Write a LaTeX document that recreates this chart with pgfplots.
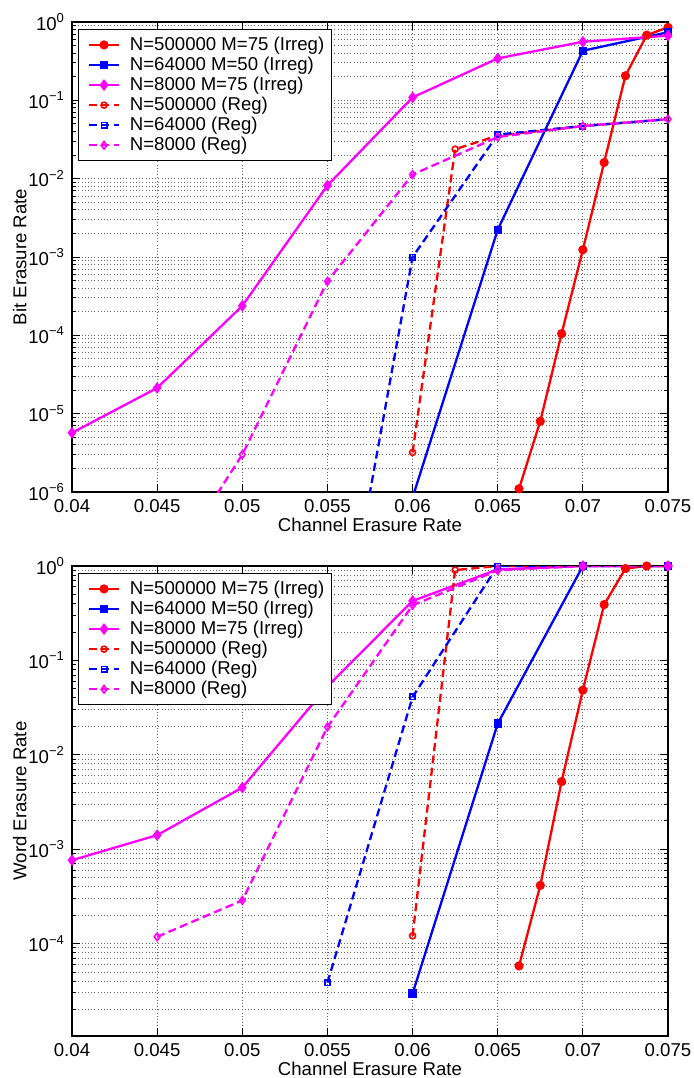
\documentclass[border=0pt]{standalone}
\usepackage{pgfplots}
\pgfplotsset{compat=1.18}
\usepackage{fontspec}
\setmainfont{Liberation Sans}
\definecolor{mred}{rgb}{1,0,0}
\definecolor{mblue}{rgb}{0,0,1}
\definecolor{mmag}{rgb}{1,0,1}
\pgfplotsset{
  myax/.style={
    scale only axis, width=298pt, height=235pt, anchor=north west,
    xmin=0.04, xmax=0.075, scaled x ticks=false,
    xtick={0.04,0.045,0.05,0.055,0.06,0.065,0.07,0.075},
    xticklabels={0.04,0.045,0.05,0.055,0.06,0.065,0.07,0.075},
    yticklabel={10\textsuperscript{\pgfmathtruncatemacro\myexp{\tick}\ifnum\myexp<0 −\the\numexpr-\myexp\relax\else\myexp\fi}},
    grid=both,
    major grid style={dash pattern=on 0.5pt off 1.1pt, black!60, line width=0.5pt},
    minor grid style={dash pattern=on 0.5pt off 1.1pt, black!60, line width=0.5pt},
    tick align=inside, major tick length=4pt, minor tick length=2pt,
    every tick/.style={black, line width=0.5pt},
    axis line style={line width=0.7pt},
    tick label style={font=\fontsize{9.3}{11}\selectfont},
    every axis label/.append style={font=\fontsize{9.3}{11}\selectfont},
    xlabel={Channel Erasure Rate},
    xlabel style={yshift=4pt},
    ylabel style={yshift=-6pt},
    legend style={at={(0.01,0.985)}, anchor=north west, draw=black, line width=0.6pt,
      font=\fontsize{9.3}{10.5}\selectfont, inner sep=1.5pt, row sep=-2.2pt},
    legend cell align=left,
    legend image code/.code={%
      \draw[#1, mark indices={2}] plot coordinates {(0.13cm,0cm) (0.395cm,0cm) (0.66cm,0cm)};
      \path[draw=none] (0cm,0cm) -- (0.78cm,0cm);},
  },
  sol/.style={line width=1.15pt, mark options={solid}},
  dsh/.style={line width=1.15pt, dash pattern=on 4pt off 2.2pt, mark options={solid, fill=white, line width=0.8pt}},
}
\begin{document}
\begin{tikzpicture}
\useasboundingbox (-36pt,11pt) rectangle (310.5pt,-528pt);
% ---------------- top ----------------
\begin{axis}[ymode=log, log basis y=10, myax, at={(0,0)}, ymin=1e-6, ymax=1, ylabel={Bit Erasure Rate}]
\addplot[mred, sol, mark=*, mark size=1.7pt, mark options={fill=mred}] coordinates {
 (0.06625,1.1e-6) (0.0675,8e-6) (0.06875,1.05e-4) (0.07,1.24e-3) (0.07125,0.0161) (0.0725,0.206) (0.07375,0.68) (0.075,0.855)};
\addlegendentry{N=500000 M=75 (Irreg)}
\addplot[mblue, sol, mark=square*, mark size=1.5pt, mark options={fill=mblue}] coordinates {
 (0.06,8.5e-7) (0.065,2.23e-3) (0.07,0.43) (0.075,0.74)};
\addlegendentry{N=64000 M=50 (Irreg)}
\addplot[mmag, sol, mark=diamond*, mark size=2pt, mark options={fill=mmag}] coordinates {
 (0.04,5.7e-6) (0.045,2.13e-5) (0.05,2.38e-4) (0.055,8.2e-3) (0.06,0.109) (0.065,0.343) (0.07,0.56) (0.075,0.67)};
\addlegendentry{N=8000 M=75 (Irreg)}
\addplot[mred, dsh, mark=o, mark size=1.5pt, mark indices={1,2}] coordinates {
 (0.06,3.2e-6) (0.0625,0.0238) (0.065,0.0355) (0.07,0.047) (0.075,0.0575)};
\addlegendentry{N=500000 (Reg)}
\addplot[mblue, dsh, mark=square, mark size=1.35pt, mark indices={1,2,3}] coordinates {
 (0.055,1e-9) (0.06,1.0e-3) (0.065,0.0366) (0.07,0.047) (0.075,0.0575)};
\addlegendentry{N=64000 (Reg)}
\addplot[mmag, dsh, mark=diamond, mark size=1.9pt] coordinates {
 (0.045,6e-8) (0.05,3.0e-6) (0.055,4.9e-4) (0.06,0.0113) (0.065,0.034) (0.07,0.047) (0.075,0.0575)};
\addlegendentry{N=8000 (Reg)}
\addplot[forget plot, only marks, mred, mark=o, mark size=1.5pt, mark options={fill=white, line width=0.8pt}] coordinates {(0.06625,1.1e-6)};
\end{axis}
% ---------------- bottom ----------------
\begin{axis}[ymode=log, log basis y=10, myax, at={(0,-272pt)}, ymin=1.05e-5, ymax=1, ylabel={Word Erasure Rate}]
\addplot[mred, sol, mark=*, mark size=1.7pt, mark options={fill=mred}] coordinates {
 (0.06625,5.8e-5) (0.0675,4.14e-4) (0.06875,5.2e-3) (0.07,0.0485) (0.07125,0.39) (0.0725,0.94) (0.07375,1.0) (0.075,1.0)};
\addlegendentry{N=500000 M=75 (Irreg)}
\addplot[mblue, sol, mark=square*, mark size=1.5pt, mark options={fill=mblue}] coordinates {
 (0.06,2.96e-5) (0.065,0.0214) (0.07,1.0) (0.075,1.0)};
\addlegendentry{N=64000 M=50 (Irreg)}
\addplot[mmag, sol, mark=diamond*, mark size=2pt, mark options={fill=mmag}] coordinates {
 (0.04,7.65e-4) (0.045,1.41e-3) (0.05,4.5e-3) (0.055,0.053) (0.06,0.427) (0.065,0.92) (0.07,1.0) (0.075,1.0)};
\addlegendentry{N=8000 M=75 (Irreg)}
\addplot[mred, dsh, mark=o, mark size=1.5pt, mark indices={1,2}] coordinates {
 (0.06,1.21e-4) (0.0625,0.906) (0.065,1.0) (0.07,1.0) (0.075,1.0)};
\addlegendentry{N=500000 (Reg)}
\addplot[mblue, dsh, mark=square, mark size=1.35pt, mark indices={1,2,3}] coordinates {
 (0.055,3.86e-5) (0.06,0.041) (0.065,1.0) (0.07,1.0) (0.075,1.0)};
\addlegendentry{N=64000 (Reg)}
\addplot[mmag, dsh, mark=diamond, mark size=1.9pt] coordinates {
 (0.045,1.18e-4) (0.05,2.87e-4) (0.055,0.0197) (0.06,0.384) (0.065,0.9) (0.07,1.0) (0.075,1.0)};
\addlegendentry{N=8000 (Reg)}
\addplot[forget plot, only marks, mred, mark=o, mark size=1.5pt, mark options={fill=white, line width=0.8pt}] coordinates {(0.06625,5.8e-5)};
\addplot[forget plot, only marks, mblue, mark=square, mark size=1.35pt, mark options={fill=white, line width=0.8pt}] coordinates {(0.06,2.96e-5)};
\end{axis}
\end{tikzpicture}
\end{document}
